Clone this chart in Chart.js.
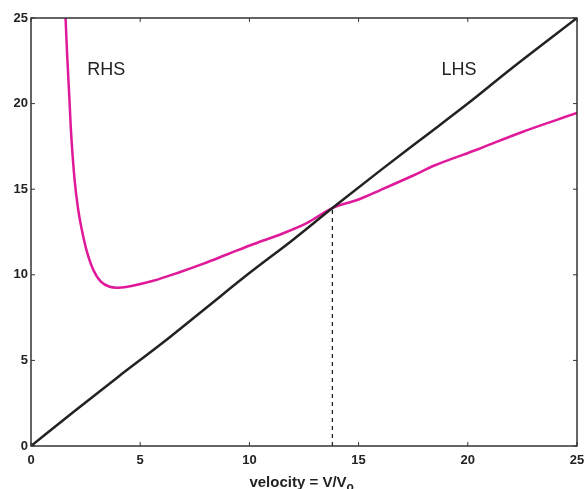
<!DOCTYPE html>
<html>
<head>
<meta charset="utf-8">
<script src="https://cdn.jsdelivr.net/npm/chart.js@4/dist/chart.umd.min.js"></script>
<style>
  html, body { margin: 0; padding: 0; background: #fff; }
  #wrap { width: 585px; height: 489px; }
</style>
</head>
<body>
<div id="wrap"><canvas id="grafico" width="585" height="489"></canvas></div>
<script>
// eje x: velocidad V/Vo
var lhsX = [0, 2, 4, 6, 8, 10, 12, 13.8, 16, 18, 20, 22, 25];
var lhsY = [0, 2.05, 4.05, 6, 8.05, 10.1, 12.05, 13.9, 16.1, 18.05, 20, 22.05, 25];

var rhsX = [1.55, 1.65, 1.75, 1.85, 2.0, 2.15, 2.3, 2.55, 2.85, 3.2, 3.6, 4.0, 4.6, 5.6, 6.8, 7.9, 9, 10.2, 11.5, 12.6, 13.8, 15, 16, 17.5, 18.5, 20.5, 22.4, 25];
var rhsY = [26, 23, 20.5, 18, 15.5, 13.9, 12.8, 11.4, 10.3, 9.6, 9.3, 9.25, 9.35, 9.65, 10.15, 10.65, 11.2, 11.8, 12.4, 13.0, 13.9, 14.4, 14.95, 15.8, 16.4, 17.35, 18.3, 19.45];

var corteX = [13.8, 13.8];
var corteY = [0, 13.9];

var ticks = [0, 5, 10, 15, 20, 25];

function puntos(xs, ys) {
    return xs.map(function (x, i) { return { x: x, y: ys[i] }; });
}

var fuenteTicks = { family: 'Liberation Sans, Arial, sans-serif', size: 13, weight: 'bold' };

// marco con ticks hacia dentro, etiquetas y titulo del eje x
var marco = {
    id: 'marco',
    afterDatasetsDraw: function (chart) {
        var ctx = chart.ctx, a = chart.chartArea;
        var sx = chart.scales.x, sy = chart.scales.y;
        ctx.save();
        ctx.strokeStyle = '#333';
        ctx.lineWidth = 1.5;
        ctx.strokeRect(a.left, a.top, a.right - a.left, a.bottom - a.top);
        ctx.lineWidth = 1;
        ticks.forEach(function (t) {
            var px = sx.getPixelForValue(t), py = sy.getPixelForValue(t);
            ctx.beginPath();
            ctx.moveTo(px, a.bottom); ctx.lineTo(px, a.bottom - 4);
            ctx.moveTo(px, a.top); ctx.lineTo(px, a.top + 4);
            ctx.moveTo(a.left, py); ctx.lineTo(a.left + 4, py);
            ctx.moveTo(a.right, py); ctx.lineTo(a.right - 4, py);
            ctx.stroke();
        });
        ctx.fillStyle = '#222';
        ctx.font = '18px Liberation Sans, Arial, sans-serif';
        ctx.textAlign = 'center';
        ctx.textBaseline = 'middle';
        ctx.fillText('RHS', sx.getPixelForValue(3.45), sy.getPixelForValue(21.95));
        ctx.fillText('LHS', sx.getPixelForValue(19.6), sy.getPixelForValue(21.95));

        ctx.font = 'bold 15px Liberation Sans, Arial, sans-serif';
        ctx.textAlign = 'left';
        ctx.textBaseline = 'alphabetic';
        var txt = 'velocity = V/V';
        var w = ctx.measureText(txt).width;
        var x0 = 298 - w / 2;
        ctx.fillText(txt, x0, 487);
        ctx.font = 'bold 12px Liberation Sans, Arial, sans-serif';
        ctx.fillText('o', x0 + w, 491);
        ctx.restore();
    }
};

new Chart(document.getElementById('grafico'), {
    type: 'scatter',
    data: {
        datasets: [
            { label: 'LHS', data: puntos(lhsX, lhsY), showLine: true, borderColor: '#222', borderWidth: 2.5, pointRadius: 0, cubicInterpolationMode: 'monotone' },
            { label: 'RHS', data: puntos(rhsX, rhsY), showLine: true, borderColor: '#e0199a', borderWidth: 2.5, pointRadius: 0, tension: 0.35 },
            { label: 'corte', data: puntos(corteX, corteY), showLine: true, borderColor: '#222', borderWidth: 1.3, borderDash: [4, 4], pointRadius: 0 }
        ]
    },
    options: {
        responsive: false,
        animation: false,
        layout: { padding: { top: 18, right: 8, left: 0, bottom: 0 } },
        plugins: { legend: { display: false }, tooltip: { enabled: false } },
        scales: {
            x: {
                type: 'linear', min: 0, max: 25,
                afterBuildTicks: function (s) { s.ticks = ticks.map(function (v) { return { value: v }; }); },
                afterFit: function (s) { s.height = 43; s.paddingRight = 0; s.paddingLeft = 0; },
                grid: { display: false, drawTicks: false },
                border: { display: false },
                ticks: { color: '#222', font: fuenteTicks, padding: 7, maxRotation: 0 }
            },
            y: {
                type: 'linear', min: 0, max: 25,
                afterBuildTicks: function (s) { s.ticks = ticks.map(function (v) { return { value: v }; }); },
                afterFit: function (s) { s.width = 31; s.paddingTop = 0; s.paddingBottom = 0; },
                grid: { display: false, drawTicks: false },
                border: { display: false },
                ticks: { color: '#222', font: fuenteTicks, padding: 3 }
            }
        }
    },
    plugins: [marco]
});
</script>
</body>
</html>
